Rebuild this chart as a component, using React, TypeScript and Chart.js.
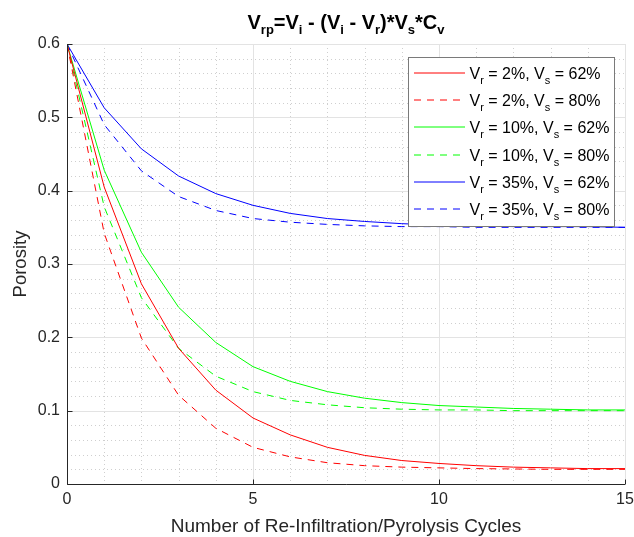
import React, { useEffect, useRef } from "react";
import { Chart, registerables } from "chart.js";

Chart.register(...registerables);

// ---------- data ----------
const cycles = [0, 1, 2, 3, 4, 5, 6, 7, 8, 9, 10, 11, 12, 13, 14, 15];

const vr2vs62 = [0.6, 0.405, 0.273, 0.185, 0.128, 0.09, 0.067, 0.05, 0.039, 0.032, 0.028, 0.025, 0.023, 0.022, 0.021, 0.021];
const vr2vs80 = [0.6, 0.342, 0.199, 0.121, 0.076, 0.05, 0.037, 0.029, 0.025, 0.023, 0.022, 0.021, 0.0205, 0.02, 0.02, 0.02];
const vr10vs62 = [0.6, 0.428, 0.316, 0.241, 0.193, 0.16, 0.14, 0.126, 0.117, 0.111, 0.107, 0.105, 0.103, 0.102, 0.101, 0.101];
const vr10vs80 = [0.6, 0.378, 0.254, 0.185, 0.147, 0.126, 0.114, 0.108, 0.104, 0.102, 0.101, 0.101, 0.1, 0.1, 0.1, 0.1];
const vr35vs62 = [0.6, 0.513, 0.457, 0.42, 0.396, 0.38, 0.369, 0.362, 0.358, 0.355, 0.353, 0.352, 0.351, 0.351, 0.351, 0.35];
const vr35vs80 = [0.6, 0.49, 0.427, 0.392, 0.373, 0.362, 0.357, 0.354, 0.352, 0.351, 0.351, 0.35, 0.35, 0.35, 0.35, 0.35];

const seriesLabels = [
  "V_r = 2%, V_s = 62%",
  "V_r = 2%, V_s = 80%",
  "V_r = 10%, V_s = 62%",
  "V_r = 10%, V_s = 80%",
  "V_r = 35%, V_s = 62%",
  "V_r = 35%, V_s = 80%",
];
const seriesValues = [vr2vs62, vr2vs80, vr10vs62, vr10vs80, vr35vs62, vr35vs80];
const seriesColors = ["#ff0000", "#ff0000", "#00ff00", "#00ff00", "#0000ff", "#0000ff"];
const seriesDashed = [false, true, false, true, false, true];

const xTickValues = [0, 5, 10, 15];
const xTickLabels = ["0", "5", "10", "15"];
const yTickValues = [0, 0.1, 0.2, 0.3, 0.4, 0.5, 0.6];
const yTickLabels = ["0", "0.1", "0.2", "0.3", "0.4", "0.5", "0.6"];
const xMinorStep = 1;
const yMinorStep = 0.02;

const chartTitle = "V_{rp}=V_i - (V_i - V_r)*V_s*C_v";
const xTitle = "Number of Re-Infiltration/Pyrolysis Cycles";
const yTitle = "Porosity";

// ---------- helpers ----------
const FONT = '"Liberation Sans", Arial, Helvetica, sans-serif';
const DASH = [7, 6];

type Seg = { t: string; sub: boolean };
function parseRich(s: string): Seg[] {
  const out: Seg[] = [];
  let buf = "";
  for (let i = 0; i < s.length; i++) {
    const c = s[i];
    if (c === "_") {
      if (buf) {
        out.push({ t: buf, sub: false });
        buf = "";
      }
      if (s[i + 1] === "{") {
        const j = s.indexOf("}", i + 2);
        out.push({ t: s.slice(i + 2, j), sub: true });
        i = j;
      } else {
        out.push({ t: s[i + 1], sub: true });
        i++;
      }
    } else buf += c;
  }
  if (buf) out.push({ t: buf, sub: false });
  return out;
}

function drawRich(
  ctx: CanvasRenderingContext2D,
  text: string,
  x: number,
  baseline: number,
  size: number,
  subSize: number,
  subOffset: number,
  weight: string,
  color: string,
  align: "left" | "center"
) {
  const segs = parseRich(text);
  const fontOf = (sub: boolean) => `${weight} ${sub ? subSize : size}px ${FONT}`;
  let total = 0;
  for (const s of segs) {
    ctx.font = fontOf(s.sub);
    total += ctx.measureText(s.t).width;
  }
  let cx = align === "center" ? x - total / 2 : x;
  ctx.fillStyle = color;
  ctx.textAlign = "left";
  ctx.textBaseline = "alphabetic";
  for (const s of segs) {
    ctx.font = fontOf(s.sub);
    ctx.fillText(s.t, cx, baseline + (s.sub ? subOffset : 0));
    cx += ctx.measureText(s.t).width;
  }
}

const crisp = (v: number) => Math.round(v) + 0.5;

const gridPlugin = {
  id: "matlabGrid",
  beforeDatasetsDraw(chart: any) {
    const { ctx, chartArea: a, scales } = chart;
    const xs = scales.x;
    const ys = scales.y;
    ctx.save();
    ctx.strokeStyle = "#cfcfcf";
    ctx.lineWidth = 1;
    ctx.setLineDash([1, 3]);
    for (let v = xs.min; v <= xs.max + 1e-9; v += xMinorStep) {
      if (xTickValues.some((t) => Math.abs(t - v) < 1e-6)) continue;
      const px = crisp(xs.getPixelForValue(v));
      ctx.beginPath();
      ctx.moveTo(px, a.top);
      ctx.lineTo(px, a.bottom);
      ctx.stroke();
    }
    for (let k = 0; ys.min + k * yMinorStep <= ys.max + 1e-9; k++) {
      const v = ys.min + k * yMinorStep;
      if (yTickValues.some((t) => Math.abs(t - v) < 1e-6)) continue;
      const py = crisp(ys.getPixelForValue(v));
      ctx.beginPath();
      ctx.moveTo(a.left, py);
      ctx.lineTo(a.right, py);
      ctx.stroke();
    }
    ctx.setLineDash([]);
    ctx.strokeStyle = "#e3e3e3";
    for (const v of xTickValues) {
      const px = crisp(xs.getPixelForValue(v));
      ctx.beginPath();
      ctx.moveTo(px, a.top);
      ctx.lineTo(px, a.bottom);
      ctx.stroke();
    }
    for (const v of yTickValues) {
      const py = crisp(ys.getPixelForValue(v));
      ctx.beginPath();
      ctx.moveTo(a.left, py);
      ctx.lineTo(a.right, py);
      ctx.stroke();
    }
    ctx.restore();
  },
  afterDatasetsDraw(chart: any) {
    const { ctx, chartArea: a, scales } = chart;
    const xs = scales.x;
    const ys = scales.y;
    ctx.save();
    ctx.strokeStyle = "#262626";
    ctx.lineWidth = 1;
    ctx.setLineDash([]);
    const lx = crisp(a.left);
    const by = crisp(a.bottom);
    ctx.beginPath();
    ctx.moveTo(lx, a.top);
    ctx.lineTo(lx, by);
    ctx.lineTo(a.right, by);
    ctx.stroke();
    for (const v of xTickValues) {
      const px = crisp(xs.getPixelForValue(v));
      ctx.beginPath();
      ctx.moveTo(px, by);
      ctx.lineTo(px, by - 5);
      ctx.stroke();
    }
    for (const v of yTickValues) {
      const py = crisp(ys.getPixelForValue(v));
      ctx.beginPath();
      ctx.moveTo(lx, py);
      ctx.lineTo(lx + 5, py);
      ctx.stroke();
    }
    ctx.restore();
  },
};

const titlePlugin = {
  id: "richTitle",
  afterDraw(chart: any) {
    const { ctx, chartArea: a } = chart;
    ctx.save();
    drawRich(ctx, chartTitle, (a.left + a.right) / 2, 29, 20, 13, 5, "bold", "#000000", "center");
    ctx.restore();
  },
};

const legendPlugin = {
  id: "richLegend",
  afterDraw(chart: any) {
    const { ctx } = chart;
    const bx = 408.5;
    const by = 57.5;
    const bw = 206;
    const bh = 169;
    ctx.save();
    ctx.fillStyle = "#ffffff";
    ctx.fillRect(bx, by, bw, bh);
    ctx.strokeStyle = "#7a7a7a";
    ctx.lineWidth = 1;
    ctx.setLineDash([]);
    ctx.strokeRect(bx, by, bw, bh);
    for (let i = 0; i < seriesLabels.length; i++) {
      const rowY = Math.round(73 + i * 27.2);
      ctx.save();
      ctx.strokeStyle = seriesColors[i];
      ctx.lineWidth = 1;
      ctx.setLineDash(seriesDashed[i] ? DASH : []);
      ctx.beginPath();
      ctx.moveTo(414, rowY);
      ctx.lineTo(465, rowY);
      ctx.stroke();
      ctx.restore();
      drawRich(ctx, seriesLabels[i], 469.5, rowY + 6, 16, 11, 5, "normal", "#000000", "left");
    }
    ctx.restore();
  },
};

export default function App() {
  const canvasRef = useRef<HTMLCanvasElement | null>(null);

  useEffect(() => {
    const canvas = canvasRef.current;
    if (!canvas) return;
    const chart = new Chart(canvas, {
      type: "line",
      data: {
        datasets: seriesValues.map((vals, i) => ({
          label: seriesLabels[i],
          data: cycles.map((c, j) => ({ x: c, y: vals[j] })),
          borderColor: seriesColors[i],
          backgroundColor: seriesColors[i],
          borderWidth: 1,
          borderDash: seriesDashed[i] ? DASH : [],
          pointRadius: 0,
          fill: false,
          tension: 0,
        })),
      },
      options: {
        animation: false,
        responsive: false,
        maintainAspectRatio: false,
        layout: { padding: { left: 0, top: 44, right: 9, bottom: 0 } },
        plugins: {
          legend: { display: false },
          title: { display: false },
          tooltip: { enabled: false },
        },
        scales: {
          x: {
            type: "linear",
            min: 0,
            max: 15,
            afterBuildTicks: (s: any) => {
              s.ticks = xTickValues.map((v) => ({ value: v }));
            },
            afterFit: (s: any) => {
              s.height = 53;
              s.paddingLeft = 0;
              s.paddingRight = 0;
            },
            grid: { display: false, drawTicks: false },
            border: { display: false },
            ticks: {
              autoSkip: false,
              maxRotation: 0,
              padding: 6,
              color: "#262626",
              font: { family: FONT, size: 16 },
              callback: (v: any) => {
                const k = xTickValues.indexOf(Number(v));
                return k >= 0 ? xTickLabels[k] : "";
              },
            },
            title: {
              display: true,
              text: xTitle,
              color: "#262626",
              font: { family: FONT, size: 19 },
              padding: { top: 0, bottom: -1 },
            },
          },
          y: {
            type: "linear",
            min: 0,
            max: 0.6,
            afterBuildTicks: (s: any) => {
              s.ticks = yTickValues.map((v) => ({ value: v }));
            },
            afterFit: (s: any) => {
              s.width = 67;
              s.paddingTop = 0;
              s.paddingBottom = 0;
            },
            grid: { display: false, drawTicks: false },
            border: { display: false },
            ticks: {
              autoSkip: false,
              padding: 7,
              color: "#262626",
              font: { family: FONT, size: 16 },
              callback: (v: any) => {
                const k = yTickValues.findIndex((t) => Math.abs(t - Number(v)) < 1e-9);
                return k >= 0 ? yTickLabels[k] : "";
              },
            },
            title: {
              display: true,
              text: yTitle,
              color: "#262626",
              font: { family: FONT, size: 18.5 },
              padding: { top: 10, bottom: 0 },
            },
          },
        },
      },
      plugins: [gridPlugin, titlePlugin, legendPlugin],
    } as any);
    return () => chart.destroy();
  }, []);

  return (
    <div style={{ position: "absolute", left: 0, top: 0, width: 634, height: 537, background: "#ffffff" }}>
      <canvas ref={canvasRef} width={634} height={537} style={{ display: "block", width: 634, height: 537 }} />
    </div>
  );
}
